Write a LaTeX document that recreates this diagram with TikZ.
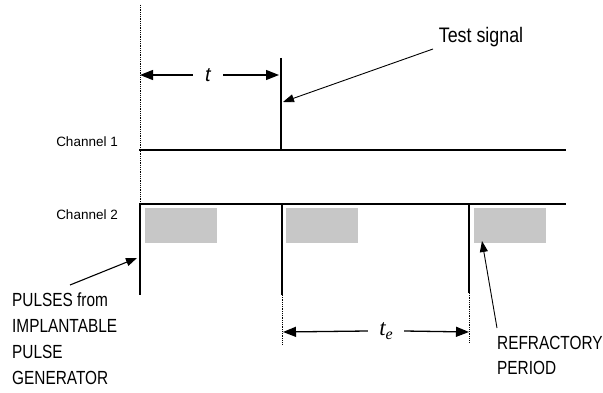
\documentclass[tikz,border=0pt]{standalone}
\usepackage{fontspec}
\setmainfont{Liberation Sans}
\newfontfamily\narrowfont[FakeStretch=0.81]{Liberation Sans}
\newfontfamily\calloutfont[FakeStretch=0.85]{Liberation Sans}
\newfontfamily\symfont{Liberation Serif}
\usetikzlibrary{arrows.meta}
\begin{document}
\begin{tikzpicture}[x=1pt,y=-1pt,
  track/.style={line width=2.6pt, line cap=rect},
  spike/.style={line width=2.3pt},
  refbox/.style={fill=black!22, draw=none},
  leader/.style={line width=1.1pt, -{Triangle[length=11pt,width=8pt]}},
  span/.style={line width=1.3pt, -{Triangle[length=13pt,width=10pt]}},
  guide/.style={densely dotted, line width=0.8pt},
  chlabel/.style={font=\fontsize{13.5}{16}\selectfont, text=black, inner sep=0pt},
  caption/.style={font=\narrowfont\fontsize{19}{26}\selectfont, align=left, inner sep=0pt, text=black}
]
\useasboundingbox (0,0) rectangle (603,393);

% time reference
\coordinate (orig) at (140,5);
\coordinate (c1s) at (140,150);
\coordinate (c1e) at (565,150);
\coordinate (c2s) at (140,204);
\coordinate (c2e) at (565,204);
\draw[guide] (orig) -- (c2s);

% channel 1 with the test signal
\coordinate (tsTop) at (281,58);
\coordinate (tsBase) at (281,150);
\draw[track] (c1s) -- (c1e);
\draw[spike] (tsTop) -- (tsBase);

% channel 2 with the pacing pulses
\coordinate (p1top) at (140,204);
\coordinate (p1bot) at (140,295);
\coordinate (p2top) at (282,204);
\coordinate (p2bot) at (282,295);
\coordinate (p2end) at (282,345);
\coordinate (p3top) at (469,204);
\coordinate (p3bot) at (469,293);
\coordinate (p3end) at (469,343);

% refractory periods
\fill[refbox] (145,208) rectangle (217,243);
\fill[refbox] (286,208) rectangle (358,243);
\fill[refbox] (474,208) rectangle (546,243);

\draw[track] (c2s) -- (c2e);
\draw[spike] (p1top) -- (p1bot);
\draw[spike] (p2top) -- (p2bot);
\draw[spike] (p3top) -- (p3bot);
\draw[guide] (p2bot) -- (p2end);
\draw[guide] (p3bot) -- (p3end);

% channel names
\node[chlabel, anchor=base east] (ch1) at (118,147) {Channel 1};
\node[chlabel, anchor=base east] (ch2) at (118,220) {Channel 2};

% delay t
\coordinate (tL) at (140,75);
\coordinate (tR) at (279,75);
\node[minimum width=30pt, inner sep=0pt, font=\itshape\fontsize{20}{22}\selectfont] (tlab) at (208,75) {t};
\draw[span] (tlab.west) -- (tL);
\draw[span] (tlab.east) -- (tR);

% escape interval t_e
\coordinate (teL) at (283,332);
\coordinate (teR) at (469,332);
\node[minimum width=36pt, inner sep=0pt, font=\symfont\itshape\fontsize{23}{24}\selectfont] (telab) at (386,331)
  {t\raisebox{-4pt}{\fontsize{16}{16}\selectfont e}};
\draw[span] (telab.west) -- (teL);
\draw[span] (telab.east) -- (teR);

% test signal callout
\node[font=\calloutfont\fontsize{21}{22}\selectfont, inner sep=0pt, text=black] (tsig) at (481,37) {Test signal};
\coordinate (tsigFoot) at (433,49);
\coordinate (tsigTip) at (283,102);
\draw[leader, line width=0.9pt] (tsigFoot) -- (tsigTip);

% pulse generator callout
\node[caption, anchor=north west] (pig) at (12,293) {PULSES from\\IMPLANTABLE\\PULSE\\GENERATOR};
\coordinate (pigFoot) at (70,285);
\coordinate (pigTip) at (137,258);
\draw[leader] (pigFoot) -- (pigTip);

% refractory period callout
\node[caption, anchor=north west, font=\narrowfont\fontsize{19}{25}\selectfont] (refr) at (497,336) {REFRACTORY\\PERIOD};
\coordinate (refrFoot) at (497,328);
\coordinate (refrTip) at (482,241);
\draw[leader, line width=0.9pt] (refrFoot) -- (refrTip);
\end{tikzpicture}
\end{document}
